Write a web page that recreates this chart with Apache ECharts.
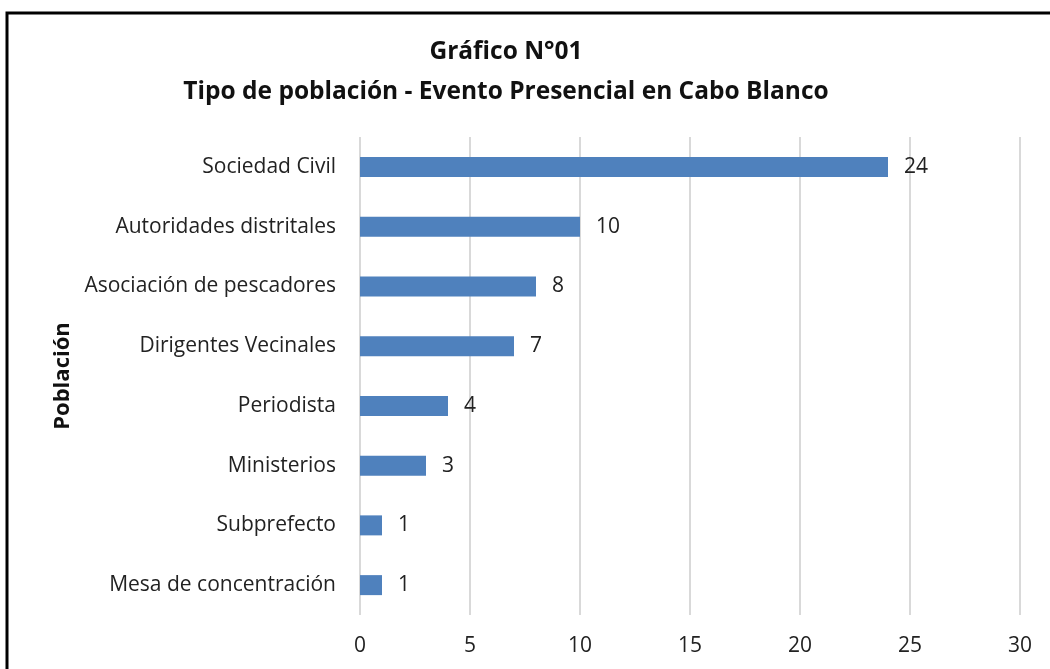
<!DOCTYPE html>
<html>
<head>
<meta charset="utf-8">
<script src="https://cdn.jsdelivr.net/npm/echarts@6/dist/echarts.min.js"></script>
<style>
  html, body { margin: 0; padding: 0; background: #fff; }
  #chart { width: 1050px; height: 669px; }
</style>
</head>
<body>
<div id="chart"></div>
<script>
var categories = ['Sociedad Civil', 'Autoridades distritales', 'Asociación de pescadores', 'Dirigentes Vecinales', 'Periodista', 'Ministerios', 'Subprefecto', 'Mesa de concentración'];
var values = [24, 10, 8, 7, 4, 3, 1, 1];
var xTicks = [0, 5, 10, 15, 20, 25, 30];

var chart = echarts.init(document.getElementById('chart'));
var font = 'Open Sans';

chart.setOption({
    animation: false,
    backgroundColor: '#fff',
    title: {
        text: 'Gráfico N°01\nTipo de población - Evento Presencial en Cabo Blanco',
        left: 501,
        textAlign: 'center',
        top: 27,
        textStyle: { fontFamily: font, fontSize: 24.5, fontWeight: 'bold', color: '#111', lineHeight: 40 }
    },
    graphic: [{
        type: 'rect',
        shape: { x: 7, y: 13, width: 1100, height: 720 },
        style: { fill: 'none', stroke: '#000', lineWidth: 3 }
    }],
    grid: { left: 360, right: 30, top: 137, bottom: 54 },
    xAxis: {
        type: 'value',
        min: xTicks[0],
        max: xTicks[xTicks.length - 1],
        interval: 5,
        axisLine: { show: false },
        axisTick: { show: false },
        splitLine: { lineStyle: { color: '#d9d9d9', width: 2 } },
        axisLabel: { fontFamily: font, fontSize: 21, color: '#222', margin: 21 }
    },
    yAxis: {
        type: 'category',
        inverse: true,
        data: categories,
        name: 'Población',
        nameLocation: 'middle',
        nameRotate: 90,
        nameGap: 285,
        nameTextStyle: { fontFamily: font, fontSize: 22, fontWeight: 'bold', color: '#111' },
        axisLine: { show: false },
        axisTick: { show: false },
        axisLabel: { fontFamily: font, fontSize: 21, color: '#222', margin: 24 }
    },
    series: [{
        type: 'bar',
        data: values,
        barWidth: 20,
        itemStyle: { color: '#4f81bd' },
        label: { show: true, position: 'right', distance: 16, fontFamily: font, fontSize: 21, color: '#222' }
    }]
});
</script>
</body>
</html>
